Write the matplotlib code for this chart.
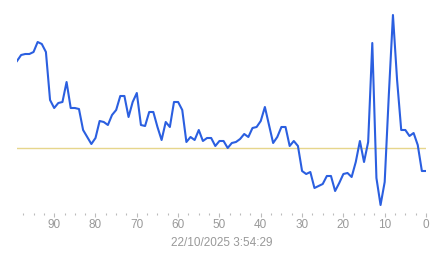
import numpy as np
import matplotlib
matplotlib.use("Agg")
import matplotlib.pyplot as plt
from matplotlib.ticker import MultipleLocator

plt.rcParams["font.family"] = ["Liberation Sans", "DejaVu Sans"]

# samples, oldest first; x = age of the sample (99 .. 0)
ages = np.arange(99, -1, -1)
values = [87, 93, 94, 94, 96, 106, 104, 96, 48, 40,
          45, 46, 66, 40, 40, 39, 18, 11, 4, 10,
          27, 26, 23, 33, 38, 52, 52, 31, 46, 55,
          23, 22, 36, 36, 21, 8, 26, 21, 46, 46,
          38, 6, 11, 8, 18, 7, 10, 10, 2, 7,
          7, 0, 5, 6, 9, 14, 11, 20, 21, 27,
          41, 23, 5, 11, 21, 21, 2, 7, 2, -23,
          -26, -24, -40, -38, -36, -28, -28, -43, -35, -26,
          -25, -29, -14, 7, -14, 6, 105, -30, -57, -34,
          53, 133, 68, 18, 18, 12, 15, 3, -23, -23]
baseline = 0
stamp = "22/10/2025 3:54:29"

fig = plt.figure(figsize=(4.43, 2.58), dpi=100)
ax = fig.add_axes([17 / 443, 45 / 258, 409 / 443, 203 / 258])

ax.axhline(baseline, color="#e6d68c", lw=1.0, zorder=1)
ax.plot(ages, values, color="#2b5fe0", lw=1.5, zorder=2)

ax.set_xlim(99, 0)
ax.set_ylim(-65, 138)
for s in ax.spines.values():
    s.set_visible(False)
ax.set_yticks([])
ax.xaxis.set_major_locator(MultipleLocator(10))
ax.xaxis.set_minor_locator(MultipleLocator(2.5))
ax.tick_params(axis="x", which="major", length=3, width=0.8, color="#bbbbbb",
               labelcolor="#999999", labelsize=8.5, pad=1.5)
ax.tick_params(axis="x", which="minor", length=1.2, width=0.8, color="#bbbbbb")
ax.set_xlabel(stamp, color="#999999", fontsize=8.5, labelpad=4)

fig.savefig("out.png", dpi=100)
